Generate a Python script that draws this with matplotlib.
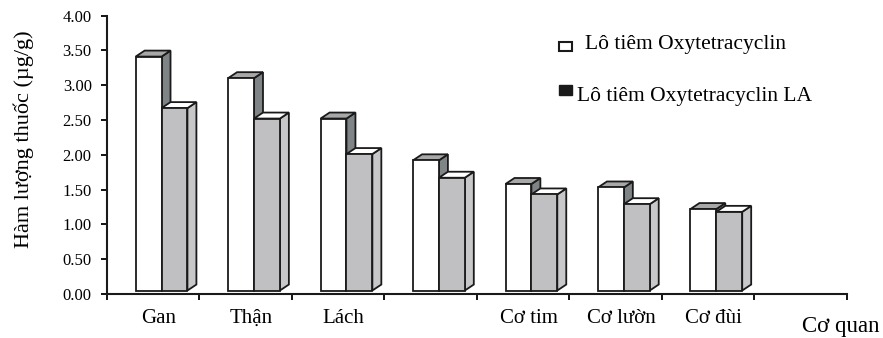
import numpy as np
import matplotlib
matplotlib.use("Agg")
import matplotlib.pyplot as plt
from matplotlib.patches import Polygon, Rectangle

# organ names (8 slots, two are blank in the original chart)
categories = ["Gan", "Thận", "Lách", "", "Cơ tim", "Cơ lườn", "Cơ đùi", ""]
# drug concentration (µg/g) per organ
oxy_vals = [3.41, 3.10, 2.52, 1.92, 1.58, 1.53, 1.22]
oxy_la_vals = [2.67, 2.52, 2.01, 1.67, 1.43, 1.29, 1.18]
series_names = ["Lô tiêm Oxytetracyclin", "Lô tiêm Oxytetracyclin LA"]

plt.rcParams["font.family"] = ["Liberation Serif", "DejaVu Serif"]

W, H = 883, 338
fig = plt.figure(figsize=(W / 100, H / 100), dpi=100)
ax = fig.add_axes([107 / W, 1 - 294 / H, (846.7 - 107) / W, (294 - 15.5) / H])
ax.set_xlim(0, len(categories))
ax.set_ylim(0, 4)

base = 0.05
bw = 0.28
dx = 0.097
dy = 0.086
edge = "#1a1a1a"


def bar3d(x0, h, front, top, side):
    pts_front = [(x0, base), (x0 + bw, base), (x0 + bw, h), (x0, h)]
    pts_top = [(x0, h), (x0 + bw, h), (x0 + bw + dx, h + dy), (x0 + dx, h + dy)]
    pts_side = [(x0 + bw, base), (x0 + bw + dx, base + dy),
                (x0 + bw + dx, h + dy), (x0 + bw, h)]
    for pts, col in ((pts_side, side), (pts_top, top), (pts_front, front)):
        ax.add_patch(Polygon(pts, closed=True, facecolor=col, edgecolor=edge,
                             linewidth=1.3, clip_on=False, joinstyle="miter"))


for i, (a, b) in enumerate(zip(oxy_vals, oxy_la_vals)):
    bar3d(i + 0.31, a, "white", "#a8a8a8", "#7f8487")
    bar3d(i + 0.31 + bw, b, "#c0c0c2", "white", "#c8c8ca")

for s in ["top", "right"]:
    ax.spines[s].set_visible(False)
for s in ["left", "bottom"]:
    ax.spines[s].set_linewidth(1.5)
    ax.spines[s].set_color(edge)

ax.set_yticks(np.arange(0, 4.01, 0.5))
ax.set_yticklabels(["%.2f" % v for v in np.arange(0, 4.01, 0.5)])
ax.tick_params(axis="y", direction="out", length=4, width=1.3, pad=7,
               labelsize=12)
ax.set_xticks(np.arange(len(categories) + 1))
ax.set_xticklabels([])
ax.tick_params(axis="x", which="major", direction="out", length=4, width=1.3)
ax.set_xticks(np.arange(len(categories)) + 0.56, minor=True)
ax.set_xticklabels(categories, minor=True)
ax.tick_params(axis="x", which="minor", length=0, pad=11, labelsize=15)

ax.set_ylabel("Hàm lượng thuốc (µg/g)", fontsize=16)
ax.yaxis.set_label_coords(-0.099, 0.556)

fig.text(802 / W, 1 - 332 / H, "Cơ quan", fontsize=16.5, va="baseline",
         ha="left")

# legend drawn by hand
fig.patches.append(Rectangle((559 / W, 1 - 50.7 / H), 12.5 / W, 9 / H,
                             transform=fig.transFigure, facecolor="white",
                             edgecolor=edge, linewidth=1.5))
fig.patches.append(Rectangle((559 / W, 1 - 95 / H), 12.5 / W, 10 / H,
                             transform=fig.transFigure, facecolor="#1a1a1a",
                             edgecolor=edge, linewidth=1))
fig.text(585 / W, 1 - 49.5 / H, series_names[0], fontsize=15.5,
         va="baseline", ha="left")
fig.text(577 / W, 1 - 100.5 / H, series_names[1], fontsize=15.5,
         va="baseline", ha="left")

fig.savefig("out.png", dpi=100)
